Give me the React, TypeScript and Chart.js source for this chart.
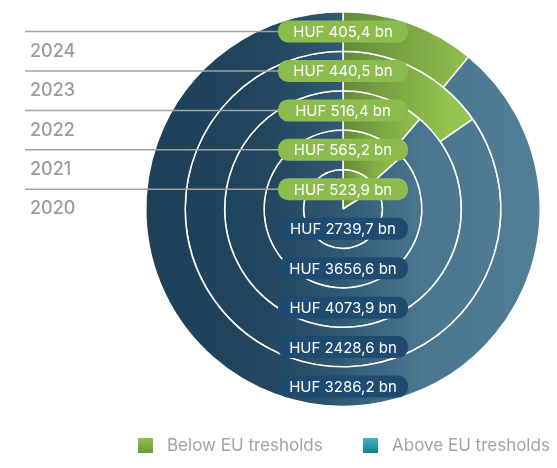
import React, { useEffect, useRef } from "react";
import { Chart, registerables } from "chart.js";

Chart.register(...registerables);

const years = ["2024", "2023", "2022", "2021", "2020"];
const belowEU = [405.4, 440.5, 516.4, 565.2, 523.9];
const aboveEU = [3286.2, 2428.6, 4073.9, 3656.6, 2739.7];
const legendLabels = ["Below EU tresholds", "Above EU tresholds"];

const fmt = (v: number) => `HUF ${v.toFixed(1).replace(".", ",")} bn`;

function ringGeom(chart: any, i: number) {
  const a = chart.chartArea;
  if (!a) return null;
  const cx = (a.left + a.right) / 2;
  const cy = (a.top + a.bottom) / 2;
  const R = (Math.min(a.right - a.left, a.bottom - a.top) - 1.5) / 2;
  const n = years.length;
  const ro = (R * (n - i)) / n;
  const ri = (R * (n - i - 1)) / n;
  return { cx, cy, ro, ri, R };
}

function segColor(c: any) {
  const chart = c.chart;
  const g = ringGeom(chart, c.datasetIndex);
  if (!g) return c.dataIndex === 0 ? "#86b548" : "#2f5870";
  const ctx = chart.ctx as CanvasRenderingContext2D;
  if (c.dataIndex === 0) {
    const gr = ctx.createLinearGradient(g.cx, 0, g.cx + g.ro * 0.68, 0);
    gr.addColorStop(0, "#64893a");
    gr.addColorStop(1, "#95c44f");
    return gr;
  }
  const gr = ctx.createLinearGradient(g.cx - g.R, 0, g.cx + g.R, 0);
  gr.addColorStop(0, "#1d4058");
  gr.addColorStop(0.3, "#21465e");
  gr.addColorStop(0.5, "#325a73");
  gr.addColorStop(0.7, "#4a7690");
  gr.addColorStop(1, "#517f96");
  return gr;
}

const overlay = {
  id: "overlay",
  afterDatasetsDraw(chart: any) {
    const ctx = chart.ctx as CanvasRenderingContext2D;
    ctx.save();
    const n = years.length;
    for (let i = 0; i < n; i++) {
      const g = ringGeom(chart, i);
      if (!g) continue;
      const mid = (g.ro + g.ri) / 2;
      ctx.strokeStyle = "#a2a2a2";
      ctx.lineWidth = 1.5;
      ctx.beginPath();
      ctx.moveTo(25, g.cy - mid);
      ctx.lineTo(g.cx, g.cy - mid);
      ctx.stroke();
      ctx.fillStyle = "#9b9b9b";
      ctx.font = "500 18px Inter, 'Noto Sans', sans-serif";
      ctx.textAlign = "left";
      ctx.textBaseline = "middle";
      ctx.fillText(years[i], 30, g.cy - g.ri);
    }
    for (let i = 0; i < n; i++) {
      const g = ringGeom(chart, i);
      if (!g) continue;
      const mid = (g.ro + g.ri) / 2;
      const w = 130;
      const h = 22;
      const pills = [
        { y: g.cy - mid, color: "#8cbc4d", text: fmt(belowEU[i]) },
        { y: g.cy + mid, color: "#1f4b71", text: fmt(aboveEU[i]) },
      ];
      for (const p of pills) {
        ctx.fillStyle = p.color;
        ctx.beginPath();
        (ctx as any).roundRect(g.cx - w / 2, p.y - h / 2, w, h, 10);
        ctx.fill();
        ctx.fillStyle = "#ffffff";
        ctx.font = "15px Inter, 'Noto Sans', sans-serif";
        ctx.textAlign = "center";
        ctx.textBaseline = "middle";
        ctx.fillText(p.text, g.cx, p.y + 1);
      }
    }
    const items = [
      { x: 138, top: "#93c152", bottom: "#6a9838", label: legendLabels[0] },
      { x: 363, top: "#3db4c4", bottom: "#1a7f8e", label: legendLabels[1] },
    ];
    for (const it of items) {
      const gr = ctx.createLinearGradient(0, 438, 0, 453);
      gr.addColorStop(0, it.top);
      gr.addColorStop(1, it.bottom);
      ctx.fillStyle = gr;
      ctx.fillRect(it.x, 438, 15, 15);
      ctx.fillStyle = "#a3a3a3";
      ctx.font = "17px Inter, 'Noto Sans', sans-serif";
      ctx.textAlign = "left";
      ctx.textBaseline = "middle";
      ctx.fillText(it.label, it.x + 29, 446);
    }
    ctx.restore();
  },
};

export default function App() {
  const ref = useRef<HTMLCanvasElement>(null);
  useEffect(() => {
    if (!ref.current) return;
    const chart = new Chart(ref.current, {
      type: "pie",
      data: {
        labels: legendLabels,
        datasets: years.map((y, i) => ({
          label: y,
          data: [belowEU[i], aboveEU[i]],
          backgroundColor: segColor as any,
          borderColor: "#ffffff",
          borderWidth: 1.5,
        })),
      },
      options: {
        animation: false,
        responsive: true,
        maintainAspectRatio: false,
        rotation: 0,
        layout: { padding: { left: 145, right: 16, top: 11, bottom: 61 } },
        plugins: {
          legend: { display: false },
          tooltip: { enabled: false },
        },
      },
      plugins: [overlay],
    });
    return () => chart.destroy();
  }, []);
  return (
    <div style={{ position: "fixed", left: 0, top: 0, width: 557, height: 468, background: "#fff" }}>
      <canvas ref={ref} />
    </div>
  );
}
